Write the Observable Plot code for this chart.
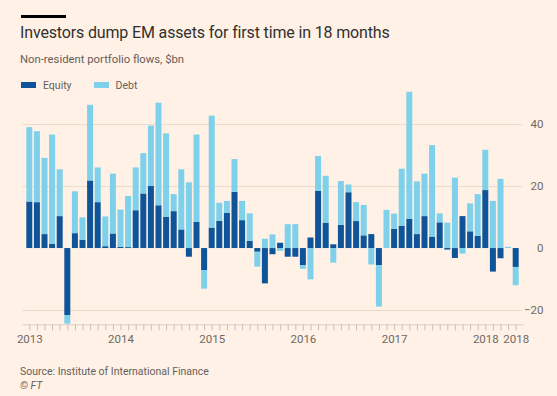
<!DOCTYPE html>
<html>
<head>
<meta charset="utf-8">
<script src="https://cdn.jsdelivr.net/npm/d3@7"></script>
<script src="https://cdn.jsdelivr.net/npm/@observablehq/plot@0.6"></script>
<style>
  html, body { margin: 0; padding: 0; background: #fff1e5; }
  body { width: 557px; height: 396px; position: relative; overflow: hidden; font-family: Roboto, "Noto Sans", sans-serif; }
  .rule { position: absolute; left: 21px; top: 15px; width: 45px; height: 3px; background: #000; }
  .title { position: absolute; left: 20px; top: 23px; font-size: 16px; letter-spacing: -0.15px; color: #33302e; white-space: nowrap; }
  .subtitle { position: absolute; left: 20px; top: 53px; font-size: 11.3px; color: #66605c; white-space: nowrap; }
  .legend { position: absolute; left: 21px; top: 79px; font-size: 10.5px; color: #66605c; display: flex; gap: 22px; z-index: 2; }
  .legend span.sw { display: inline-block; width: 15px; height: 6px; margin-right: 7px; vertical-align: middle; position: relative; top: -1px; }
  #chart { position: absolute; left: 0; top: 89px; }
  .source { position: absolute; left: 20px; top: 365px; font-size: 10.5px; color: #66605c; white-space: nowrap; }
  .ft { position: absolute; left: 20px; top: 379px; font-size: 10.5px; color: #66605c; font-style: italic; }
</style>
</head>
<body>
<div class="rule"></div>
<div class="title">Investors dump EM assets for first time in 18 months</div>
<div class="subtitle">Non-resident portfolio flows, $bn</div>
<div class="legend" id="legend"></div>
<div id="chart"></div>
<div class="source">Source: Institute of International Finance</div>
<div class="ft">© FT</div>
<script>
// Months Jan 2013 – May 2018
const months = [
  "2013-01","2013-02","2013-03","2013-04","2013-05","2013-06","2013-07","2013-08","2013-09","2013-10","2013-11","2013-12",
  "2014-01","2014-02","2014-03","2014-04","2014-05","2014-06","2014-07","2014-08","2014-09","2014-10","2014-11","2014-12",
  "2015-01","2015-02","2015-03","2015-04","2015-05","2015-06","2015-07","2015-08","2015-09","2015-10","2015-11","2015-12",
  "2016-01","2016-02","2016-03","2016-04","2016-05","2016-06","2016-07","2016-08","2016-09","2016-10","2016-11","2016-12",
  "2017-01","2017-02","2017-03","2017-04","2017-05","2017-06","2017-07","2017-08","2017-09","2017-10","2017-11","2017-12",
  "2018-01","2018-02","2018-03","2018-04","2018-05"
];

const equity = [
  15.0, 14.8, 4.5, 1.4, 10.3, -21.6, 4.8, 2.7, 21.8, 14.8, 0.6, 4.7,
  0.4, 0.3, 12.2, 17.6, 20.0, 13.8, 10.1, 11.9, 6.0, -2.8, 8.4, -7.1,
  6.6, 8.8, 11.3, 18.1, 9.0, 2.3, -1.2, -11.4, -2.0, 1.7, -2.8, -2.8,
  -5.5, 3.4, 18.4, 8.2, 1.2, 7.5, 18.0, 8.7, 4.1, 4.5, -5.5, 0,
  6.2, 7.2, 9.4, 4.5, 10.3, 3.7, 8.3, -0.5, -3.2, 10.3, 5.4, 3.9,
  18.7, -7.6, -3.3, 0, -6.1
];

const debt = [
  24.0, 22.9, 24.6, 35.2, 15.1, -2.8, 13.5, 7.2, 24.4, 11.2, 9.6, 19.3,
  12.0, 16.5, 13.8, 13.0, 19.5, 33.1, 26.9, 5.5, 19.4, 21.2, 28.2, -6.0,
  36.1, 5.8, 3.9, 10.6, 6.2, 8.9, -4.8, 3.0, 4.4, -0.9, 7.7, 7.7,
  -1.2, -10.1, 11.3, 15.1, -4.7, 14.1, 2.5, 6.1, 9.8, -5.3, -13.4, 12.3,
  4.9, 18.4, 41.0, 17.0, 13.7, 29.5, 2.9, 8.2, 22.7, -1.8, 9.0, 13.5,
  13.0, 15.2, 22.3, 0.4, -5.9
];

const seriesNames = ["Equity", "Debt"];
const seriesColors = ["#0f5499", "#7fd0ea"];

// Months that carry a year label
const labelMonths = ["2013-01","2014-01","2015-01","2016-01","2017-01","2018-01","2018-05"];
const yTicks = [-20, 0, 20, 40];
const gridTicks = [-20, 20, 40];

const rows = [
  ...months.map((m, i) => ({month: m, value: equity[i], series: seriesNames[0]})),
  ...months.map((m, i) => ({month: m, value: debt[i], series: seriesNames[1]}))
];

// legend
const legend = document.getElementById("legend");
seriesNames.forEach((s, i) => {
  const item = document.createElement("div");
  item.innerHTML = `<span class="sw" style="background:${seriesColors[i]}"></span>${s}`;
  legend.appendChild(item);
});

const chart = Plot.plot({
  width: 557,
  height: 263,
  marginLeft: 22.5,
  marginRight: 34.5,
  marginTop: 0,
  marginBottom: 27.7,
  style: {background: "transparent", fontFamily: "Roboto, 'Noto Sans', sans-serif", fontSize: "11.5px", color: "#66605c"},
  x: {type: "band", domain: months, paddingInner: 0.21, paddingOuter: 0.5, align: 0.5},
  y: {domain: [-24.6, 51.3]},
  color: {domain: seriesNames, range: seriesColors},
  marks: [
    Plot.gridY(gridTicks, {stroke: "#eadccf", strokeOpacity: 1}),
    Plot.barY(rows, {x: "month", y: "value", fill: "series", inset: 0}),
    Plot.frame({anchor: "bottom", stroke: "#dccfc3"}),
    Plot.axisX({ticks: months, tickSize: 6, stroke: "#cbbfb4", tickFormat: null, label: null}),
    Plot.axisX({ticks: labelMonths, tickSize: 0, tickPadding: 10, tickFormat: d => d.slice(0, 4), label: null, fill: "#6f6964"}),
    Plot.axisY({ticks: yTicks, anchor: "right", tickSize: 0, tickPadding: 0, textAnchor: "end", dx: 20.5, label: null, fill: "#6f6964"})
  ]
});
document.getElementById("chart").appendChild(chart);
</script>
</body>
</html>
